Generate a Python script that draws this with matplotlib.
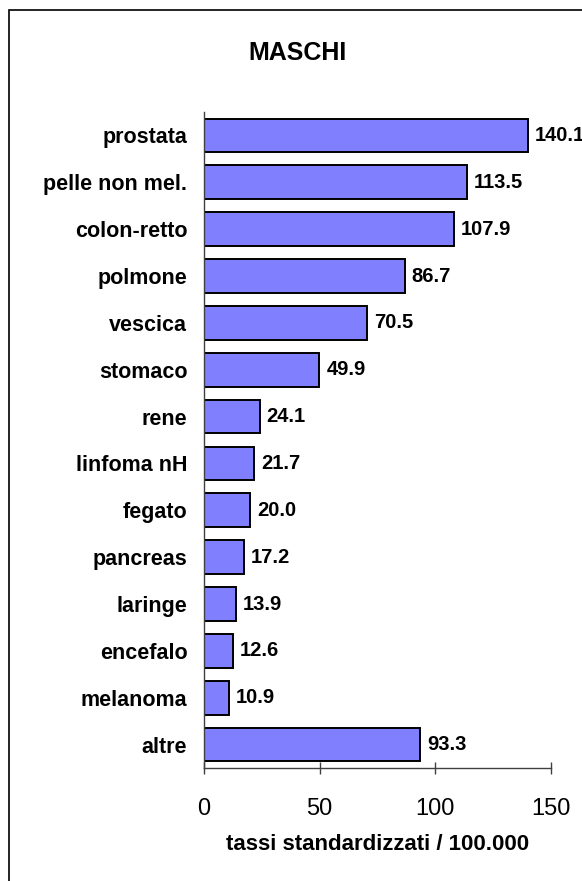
import matplotlib
matplotlib.use("Agg")
import matplotlib.pyplot as plt
from matplotlib.patches import Rectangle

# sedi tumorali, maschi (tassi standardizzati / 100.000)
sedi = ["prostata", "pelle non mel.", "colon-retto", "polmone", "vescica",
        "stomaco", "rene", "linfoma nH", "fegato", "pancreas", "laringe",
        "encefalo", "melanoma", "altre"]
tassi = [140.1, 113.5, 107.9, 86.7, 70.5, 49.9, 24.1, 21.7, 20.0, 17.2,
         13.9, 12.6, 10.9, 93.3]
xticks = [0, 50, 100, 150]

plt.rcParams["font.family"] = ["Liberation Sans", "DejaVu Sans"]

W, H = 582, 881
fig = plt.figure(figsize=(W / 100, H / 100), dpi=100)
ax = fig.add_axes([204 / W, 1 - 768 / H, (551 - 204) / W, (768 - 112) / H])

ypos = list(range(len(sedi)))
ax.barh(ypos, tassi, height=0.72, color="#8080FF", edgecolor="black", linewidth=1.4)
for y, v in zip(ypos, tassi):
    ax.annotate(f"{v:.1f}", (v, y), xytext=(5, 0), textcoords="offset points",
                va="center", ha="left", fontsize=14.5, fontweight="bold",
                annotation_clip=False)

ax.set_ylim(len(sedi) - 0.5, -0.5)
ax.set_xlim(0, 150)
ax.set_yticks(ypos)
ax.set_yticklabels(sedi, fontsize=15.5, fontweight="bold")
ax.tick_params(axis="y", length=0, pad=12)
ax.set_xticks(xticks)
ax.tick_params(axis="x", direction="inout", length=9, width=1, labelsize=17, pad=17,
               color="#404040")
for s in ["top", "right"]:
    ax.spines[s].set_visible(False)
for s in ["left", "bottom"]:
    ax.spines[s].set_color("#404040")
    ax.spines[s].set_linewidth(1)

ax.set_xlabel("tassi standardizzati / 100.000", fontsize=16, fontweight="bold", labelpad=10)
fig.text(297 / W, 1 - 53 / H, "MASCHI", ha="center", va="center",
         fontsize=18, fontweight="bold")

# cornice esterna
fig.patches.append(Rectangle((9 / W, -0.1), 1.2, 1 - 10 / H + 0.1,
                             transform=fig.transFigure, fill=False,
                             edgecolor="black", linewidth=1.2))

fig.savefig("out.png", dpi=100)
